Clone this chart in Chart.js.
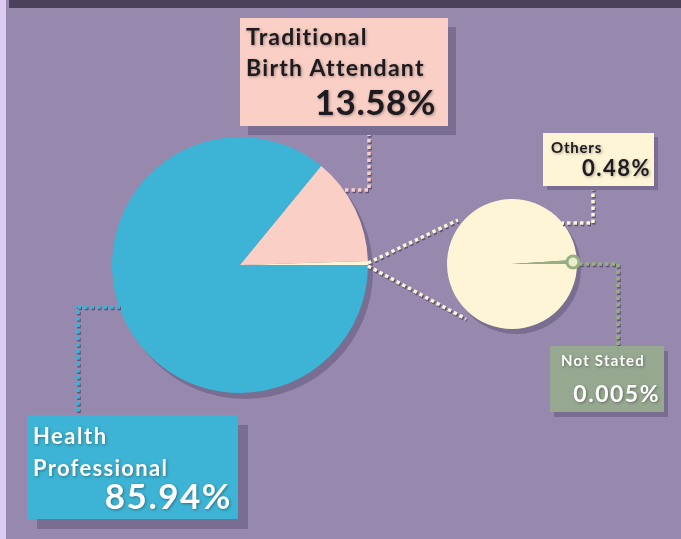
<!DOCTYPE html>
<html lang="en">
<head>
    <meta charset="UTF-8">
    <title>Birth attendance</title>
    <script src="https://cdn.jsdelivr.net/npm/chart.js"></script>
    <style>
        html, body {
            margin: 0;
            padding: 0;
        }
        body {
            width: 681px;
            height: 539px;
            position: relative;
            overflow: hidden;
            background: #9788ad;
            font-family: Lato, "Open Sans", sans-serif;
        }
        .strip {
            position: absolute;
            left: 0; top: 0;
            width: 6px; height: 539px;
            background: #dccbf1;
        }
        .topbar {
            position: absolute;
            left: 9px; top: 0;
            width: 672px; height: 8px;
            background: #4b415a;
        }
        canvas {
            position: absolute;
        }
        #mainPie { left: 102px; top: 127px; }
        #subPie { left: 437px; top: 189px; }
        svg {
            position: absolute;
            left: 0; top: 0;
        }
        .box {
            position: absolute;
            box-sizing: border-box;
        }
        .box div {
            position: absolute;
            white-space: nowrap;
            font-weight: 700;
        }
        .dark div { color: #1d1b1f; text-shadow: 1px 1px 3px rgba(0,0,0,0.35); }
        .light div { color: #ffffff; text-shadow: 1px 1px 3px rgba(0,0,0,0.35); }
    </style>
</head>
<body>
    <div class="strip"></div>
    <div class="topbar"></div>

    <canvas id="mainPie" width="286" height="286"></canvas>
    <canvas id="subPie" width="160" height="160"></canvas>

    <!-- dotted connectors -->
    <svg width="681" height="539" id="links"></svg>

    <div class="box dark" style="left:240px; top:18px; width:208px; height:108px; background:#facfc5; box-shadow:8px 9px 0 #7a6d92;">
        <div style="left:6px; top:4px; font-size:23px; letter-spacing:1.2px;">Traditional</div>
        <div style="left:6px; top:35px; font-size:23px; letter-spacing:1.3px;">Birth Attendant</div>
        <div style="right:12px; top:62px; font-size:35px; letter-spacing:0.5px;">13.58%</div>
    </div>

    <div class="box dark" style="left:543px; top:133px; width:111px; height:53px; background:#fdf5d6; box-shadow:4px 4px 0 #7a6d92;">
        <div style="left:8px; top:5px; font-size:15px; letter-spacing:0.8px;">Others</div>
        <div style="right:3px; top:21px; font-size:22px; letter-spacing:1.5px;">0.48%</div>
    </div>

    <div class="box light" style="left:550px; top:346px; width:114px; height:66px; background:#96a890; box-shadow:4px 5px 0 #7a6d92;">
        <div style="left:11px; top:5px; font-size:15px; letter-spacing:1.2px;">Not Stated</div>
        <div style="right:4px; top:33px; font-size:23px; letter-spacing:1.5px;">0.005%</div>
    </div>

    <div class="box light" style="left:27px; top:415px; width:211px; height:104px; background:#3db4d5; box-shadow:10px 10px 0 #7a6d92;">
        <div style="left:6px; top:7px; font-size:22px; letter-spacing:1.5px;">Health</div>
        <div style="left:6px; top:39px; font-size:22px; letter-spacing:1.3px;">Professional</div>
        <div style="right:6px; top:59px; font-size:35px; letter-spacing:1.5px;">85.94%</div>
    </div>

    <script>
        // main pie
        const mainLabels = ['Health Professional', 'Traditional Birth Attendant', 'Others + Not Stated'];
        const mainValues = [85.94, 13.58, 0.485];
        const mainColors = ['#3db4d5', '#facfc5', '#fdf5d6'];

        // breakdown pie
        const subLabels = ['Others', 'Not Stated'];
        const subValues = [0.48, 0.005];
        const subColors = ['#fdf5d6', '#98af80'];

        const shadowColor = '#7a6d92';

        // flat drop shadow behind the pie, using the arc geometry of the chart
        const pieShadow = {
            id: 'pieShadow',
            beforeDatasetsDraw(chart, args, opts) {
                const arc = chart.getDatasetMeta(0).data[0];
                const ctx = chart.ctx;
                ctx.save();
                ctx.fillStyle = shadowColor;
                ctx.beginPath();
                ctx.arc(arc.x + opts.dx, arc.y + opts.dy, arc.outerRadius, 0, Math.PI * 2);
                ctx.fill();
                ctx.restore();
            }
        };

        // little ring marking the "Not Stated" slice
        const sliceRing = {
            id: 'sliceRing',
            afterDatasetsDraw(chart) {
                const arc = chart.getDatasetMeta(0).data[1];
                const mid = (arc.startAngle + arc.endAngle) / 2;
                const r = arc.outerRadius - 4;
                const ctx = chart.ctx;
                ctx.save();
                ctx.beginPath();
                ctx.arc(arc.x + Math.cos(mid) * r, arc.y + Math.sin(mid) * r, 6, 0, Math.PI * 2);
                ctx.fillStyle = '#e9ecd0';
                ctx.fill();
                ctx.lineWidth = 3;
                ctx.strokeStyle = '#98af80';
                ctx.stroke();
                ctx.restore();
            }
        };

        const baseOptions = {
            responsive: false,
            animation: false,
            rotation: 90,
            layout: { padding: { left: 10, top: 10, right: 20, bottom: 20 } },
            plugins: {
                legend: { display: false },
                tooltip: { enabled: false },
                pieShadow: { dx: 5, dy: 6 }
            }
        };

        new Chart(document.getElementById('mainPie'), {
            type: 'pie',
            data: {
                labels: mainLabels,
                datasets: [{ data: mainValues, backgroundColor: mainColors, borderWidth: 0 }]
            },
            options: baseOptions,
            plugins: [pieShadow]
        });

        new Chart(document.getElementById('subPie'), {
            type: 'pie',
            data: {
                labels: subLabels,
                datasets: [{ data: subValues, backgroundColor: subColors, borderWidth: 0 }]
            },
            options: Object.assign({}, baseOptions, {
                plugins: {
                    legend: { display: false },
                    tooltip: { enabled: false },
                    pieShadow: { dx: 4, dy: 5 }
                }
            }),
            plugins: [pieShadow, sliceRing]
        });

        // connectors: [points, colour]
        const links = [
            ['369,126 369,190 343,190', '#facfc5'],
            ['593,187 593,223 562,223', '#fdf5d6'],
            ['368,263 458,220', '#fdf5d6'],
            ['368,266 466,319', '#fdf5d6'],
            ['579,264 618,264 618,345', '#98af80'],
            ['120,307 78,307 78,412', '#3db4d5']
        ];
        const svg = document.getElementById('links');
        let html = '';
        links.forEach(([pts, col]) => {
            html += `<polyline points="${pts}" fill="none" stroke="#5e5275" stroke-width="3.5" stroke-dasharray="3.5 3" transform="translate(1,1.5)"/>`;
            html += `<polyline points="${pts}" fill="none" stroke="${col}" stroke-width="3.5" stroke-dasharray="3.5 3"/>`;
        });
        svg.innerHTML = html;
    </script>
</body>
</html>
